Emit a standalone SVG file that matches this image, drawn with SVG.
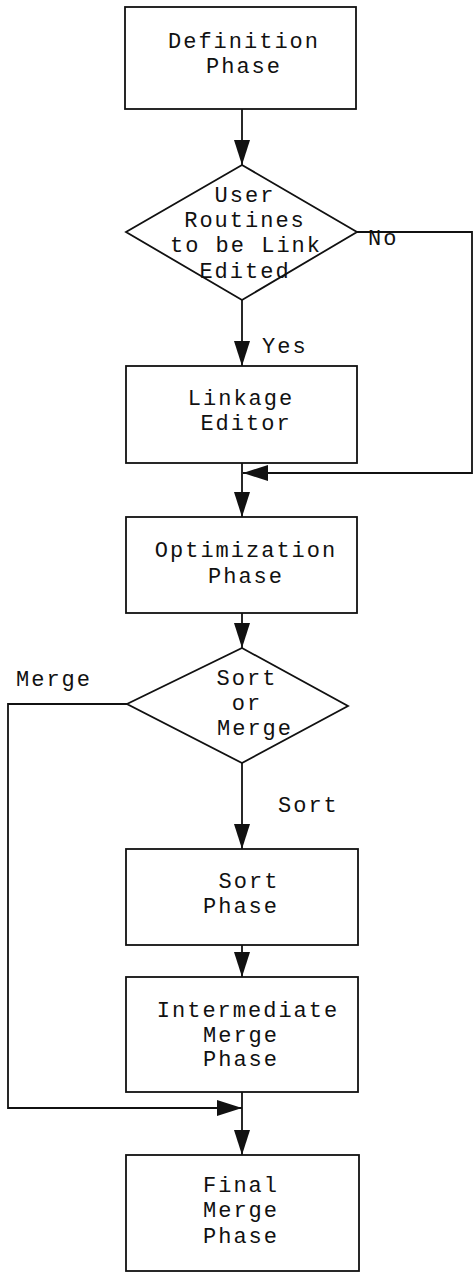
<svg xmlns="http://www.w3.org/2000/svg" width="476" height="1274" viewBox="0 0 476 1274">
<style>
.box{fill:#fff;stroke:#111;stroke-width:1.8}
.t{font-family:"Liberation Mono","Courier New",monospace;font-size:22px;letter-spacing:2px;fill:#111;text-anchor:middle}
.l{font-family:"Liberation Mono","Courier New",monospace;font-size:22px;letter-spacing:2px;fill:#111}
.c{fill:none;stroke:#111;stroke-width:1.8}
</style>
<defs>
<marker id="ah" markerUnits="userSpaceOnUse" markerWidth="26" markerHeight="18" refX="25" refY="8" orient="auto">
<path d="M0,0 L25,8 L0,16 z" fill="#111"/>
</marker>
</defs>
<rect width="476" height="1274" fill="#fff"/>
<g id="connectors">
<path class="c" d="M242,109 V165" marker-end="url(#ah)"/>
<path class="c" d="M242,300 V366" marker-end="url(#ah)"/>
<path class="c" d="M357,232 H472 V473 H243" marker-end="url(#ah)"/>
<path class="c" d="M242,463 V517" marker-end="url(#ah)"/>
<path class="c" d="M242,613 V648" marker-end="url(#ah)"/>
<path class="c" d="M242,763 V849" marker-end="url(#ah)"/>
<path class="c" d="M242,945 V977" marker-end="url(#ah)"/>
<path class="c" d="M127,704 H8 V1108 H242" marker-end="url(#ah)"/>
<path class="c" d="M242,1092 V1155" marker-end="url(#ah)"/>
<text class="l" x="262" y="353">Yes</text>
<text class="l" x="368" y="245">No</text>
<text class="l" x="16" y="686">Merge</text>
<text class="l" x="278" y="812">Sort</text>
</g>
<g id="definition">
<rect class="box" x="125" y="7" width="231" height="102"/>
<text class="t" x="244" y="48">Definition</text>
<text class="t" x="244" y="73">Phase</text>
</g>
<g id="decision-link">
<polygon class="box" points="242,165 357,232 242,300 126,232"/>
<text class="t" x="245" y="202">User</text>
<text class="t" x="245" y="227">Routines</text>
<text class="t" x="246" y="252">to be Link</text>
<text class="t" x="245" y="278">Edited</text>
</g>
<g id="linkage-editor">
<rect class="box" x="126" y="366" width="231" height="97"/>
<text class="t" x="241" y="405">Linkage</text>
<text class="t" x="246" y="430">Editor</text>
</g>
<g id="optimization">
<rect class="box" x="126" y="517" width="231" height="96"/>
<text class="t" x="246" y="557">Optimization</text>
<text class="t" x="246" y="583">Phase</text>
</g>
<g id="decision-sort">
<polygon class="box" points="242,648 348,706 242,763 127,704"/>
<text class="t" x="247" y="685">Sort</text>
<text class="t" x="247" y="710">or</text>
<text class="t" x="255" y="735">Merge</text>
</g>
<g id="sort-phase">
<rect class="box" x="126" y="849" width="232" height="96"/>
<text class="t" x="249" y="888">Sort</text>
<text class="t" x="241" y="913">Phase</text>
</g>
<g id="intermediate-merge">
<rect class="box" x="126" y="977" width="232" height="115"/>
<text class="t" x="248" y="1017">Intermediate</text>
<text class="t" x="241" y="1042">Merge</text>
<text class="t" x="241" y="1066">Phase</text>
</g>
<g id="final-merge">
<rect class="box" x="126" y="1155" width="233" height="116"/>
<text class="t" x="241" y="1192">Final</text>
<text class="t" x="241" y="1217">Merge</text>
<text class="t" x="241" y="1243">Phase</text>
</g>
</svg>
